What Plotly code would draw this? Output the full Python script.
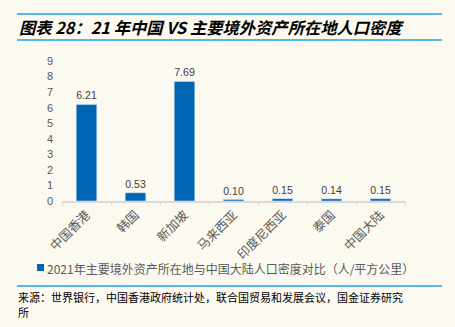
import plotly.graph_objects as go

categories = ["中国香港", "韩国", "新加坡", "马来西亚", "印度尼西亚", "泰国", "中国大陆"]
values = [6.21, 0.53, 7.69, 0.10, 0.15, 0.14, 0.15]
series_name = "2021年主要境外资产所在地与中国大陆人口密度对比（人/平方公里）"
title_text = "图表 28：21 年中国 VS 主要境外资产所在地人口密度"
source_lines = ["来源：世界银行，中国香港政府统计处，联合国贸易和发展会议，国金证券研究", "所"]

BG = "#FCF9F0"
BLUE = "#0066B3"
W, H = 455, 327
L, R, T, B = 62, 50, 61, 126
pw, ph = W - L - R, H - T - B

def px(x):
    return (x - L) / pw

def py(y):
    return (H - B - y) / ph

fig = go.Figure()
fig.add_trace(go.Bar(
    x=categories, y=values, name=series_name,
    marker=dict(color=BLUE), width=0.42,
    text=[f"{v:.2f}" for v in values], textposition="outside",
    textfont=dict(size=11, color="#404040", family="Liberation Sans, Arial"),
    cliponaxis=False, showlegend=False,
))

fig.update_layout(
    width=W, height=H,
    margin=dict(l=L, r=R, t=T, b=B),
    paper_bgcolor=BG, plot_bgcolor=BG,
    font=dict(family="Noto Sans CJK SC", color="#595959"),
    showlegend=False,
)
fig.update_xaxes(
    showline=True, linecolor="#D9D9D9", linewidth=1.5,
    ticks="outside", tickcolor="#D9D9D9", ticklen=3, tickson="boundaries",
    tickangle=-45, tickfont=dict(size=12.5, color="#595959"),
    showgrid=False,
)
fig.update_yaxes(
    range=[0, 9], dtick=1, showgrid=False, zeroline=False,
    tickfont=dict(size=11, color="#595959", family="Liberation Sans, Arial"),
    ticks="", ticklabelstandoff=8,
)

shapes = []
for yy in (14, 40, 286):
    shapes.append(dict(type="line", xref="paper", yref="paper",
                       x0=px(17), x1=px(442), y0=py(yy), y1=py(yy),
                       line=dict(color="#1AA3E8", width=1.5)))
# legend swatch
shapes.append(dict(type="rect", xref="paper", yref="paper",
                   x0=px(37), x1=px(44), y0=py(271), y1=py(264),
                   fillcolor=BLUE, line=dict(width=0)))
fig.update_layout(shapes=shapes)

fig.add_annotation(text=series_name, xref="paper", yref="paper",
                   x=px(45), y=py(268), xanchor="left", yanchor="middle",
                   showarrow=False, font=dict(size=12, color="#595959"))
fig.add_annotation(text="<b><i>" + title_text + "</i></b>", xref="paper", yref="paper",
                   x=px(17), y=py(27), xanchor="left", yanchor="middle",
                   showarrow=False, font=dict(size=16.3, color="#000000", family="Noto Sans CJK SC"))
for i, line in enumerate(source_lines):
    fig.add_annotation(text=line, xref="paper", yref="paper",
                       x=px(16), y=py(297 + 15 * i), xanchor="left", yanchor="middle",
                       showarrow=False, font=dict(size=11, color="#000000", family="Noto Sans CJK SC"))

fig.write_html("out.html")
